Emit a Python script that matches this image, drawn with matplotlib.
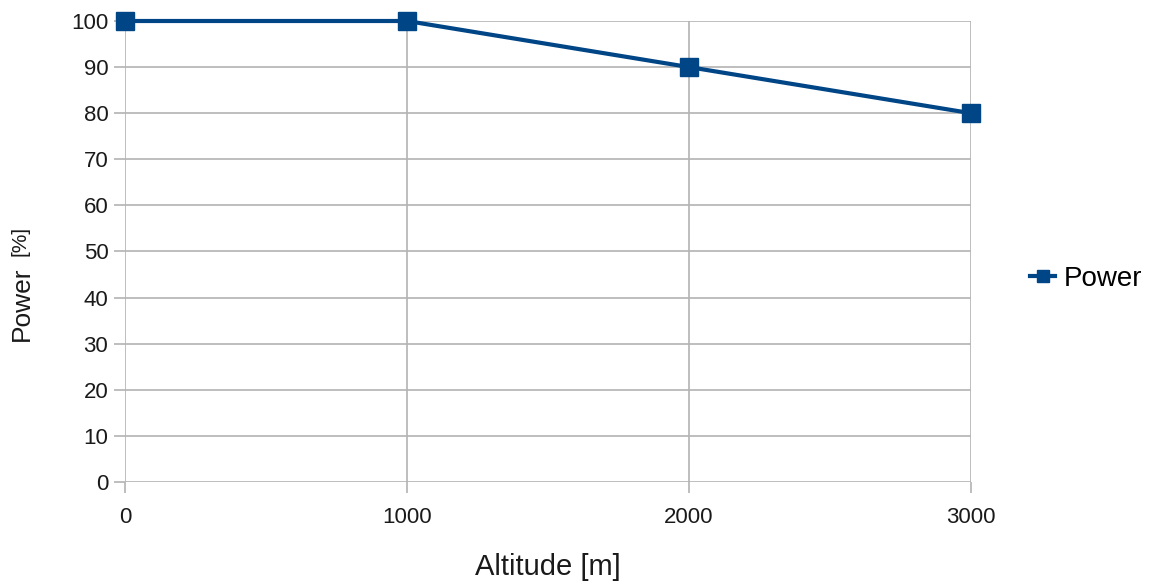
import matplotlib.pyplot as plt

plt.rcParams['font.family'] = ['Liberation Sans', 'DejaVu Sans']

altitude = [0, 1000, 2000, 3000]
power = [100, 100, 90, 80]
x_ticks = [0, 1000, 2000, 3000]
y_ticks = list(range(0, 101, 10))

BLUE = '#004586'
GRID = '#b3b3b3'
TEXT = '#1a1a1a'

fig = plt.figure(figsize=(11.52, 5.85), dpi=100)
ax = fig.add_axes([125/1152, 1 - 482/585, (971 - 125)/1152, (482 - 21)/585])

ax.plot(altitude, power, color=BLUE, linewidth=3, marker='s', markersize=13,
        label='Power', clip_on=False, zorder=5)

ax.set_xlim(0, 3000)
ax.set_ylim(0, 100)
ax.set_xticks(x_ticks)
ax.set_yticks(y_ticks)
ax.grid(True, color=GRID, linewidth=1.2)
for s in ax.spines.values():
    s.set_visible(False)
ax.tick_params(axis='both', length=8, width=1.2, color=GRID, labelsize=16,
               labelcolor=TEXT)
ax.tick_params(axis='x', pad=10)
ax.tick_params(axis='y', pad=4)

ax.set_xlabel('Altitude [m]', fontsize=21, color=TEXT, labelpad=18)
fig.text(22/1152, 1 - 341/585, 'Power', rotation=90, fontsize=19,
         color=TEXT, ha='center', va='bottom')
fig.text(20/1152, 1 - 256/585, '[%]', rotation=90, fontsize=15,
         color=TEXT, ha='center', va='bottom')

fig.legend(loc='center left', bbox_to_anchor=(1005/1152, 1 - 279/585),
           frameon=False, fontsize=20, handlelength=0.9, handletextpad=0.3,
           markerscale=0.7)

fig.savefig('out.png', dpi=100)
